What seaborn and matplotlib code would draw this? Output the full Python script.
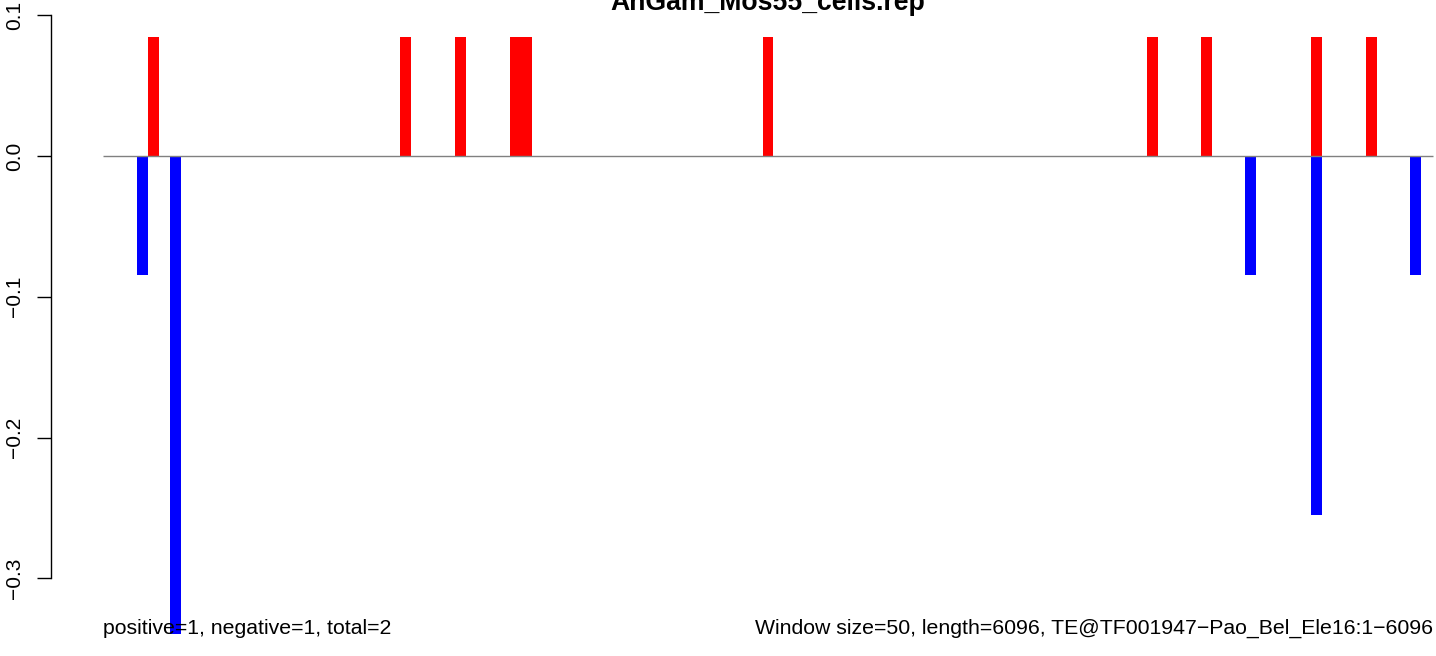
import matplotlib
matplotlib.use("Agg")
import matplotlib.pyplot as plt
import seaborn as sns
import pandas as pd

# ---- data ----
title = "AnGam_Mos55_cells.rep"
pos_windows = [5, 28, 33, 38, 39, 61, 96, 101, 111, 116]
pos_values = [0.0847, 0.0847, 0.0847, 0.0847, 0.0847, 0.0847, 0.0847, 0.0847, 0.0847, 0.0847]
neg_windows = [4, 7, 105, 111, 120]
neg_values = [-0.0847, -0.3397, -0.0847, -0.2548, -0.0847]
ytick_values = [0.1, 0.0, -0.1, -0.2, -0.3]
ytick_labels = ["0.1", "0.0", "\u22120.1", "\u22120.2", "\u22120.3"]
left_note = "positive=1, negative=1, total=2"
right_note = "Window size=50, length=6096, TE@TF001947\u2212Pao_Bel_Ele16:1\u22126096"

sns.set_style("white")
plt.rcParams["font.family"] = ["Liberation Sans", "DejaVu Sans"]
plt.rcParams["text.color"] = "black"
plt.rcParams["ytick.color"] = "black"

df = pd.DataFrame({
    "window": pos_windows + neg_windows,
    "value": pos_values + neg_values,
    "sign": ["pos"] * len(pos_windows) + ["neg"] * len(neg_windows),
})

W, H = 1436, 656
fig = plt.figure(figsize=(W / 100, H / 100), dpi=100)
ax = fig.add_axes([50.5 / W, 0.0, 1 - 50.5 / W, 1.0])
ax.set_facecolor("none")

sns.barplot(data=df, x="window", y="value", hue="sign",
            palette={"pos": "#FF0000", "neg": "#0000FF"},
            native_scale=True, dodge=False, width=1.0, linewidth=0,
            errorbar=None, legend=False, saturation=1, ax=ax)

ax.hlines(0, 0.4, 121.6, color="#808080", lw=1.0, zorder=5)

ax.set_xlim(-4.383, 121.87)
ax.set_ylim(-0.3551, 0.1108)

for s in ["top", "right", "bottom"]:
    ax.spines[s].set_visible(False)
ax.spines["left"].set_bounds(-0.3, 0.1)
ax.spines["left"].set_linewidth(1.0)
ax.spines["left"].set_color("black")
ax.xaxis.set_visible(False)
ax.set_yticks(ytick_values)
ax.set_yticklabels(ytick_labels, rotation=90, va="center", fontsize=15, color="black")
ax.tick_params(axis="y", length=10, width=1.0, pad=9, left=True, colors="black")
ax.set_xlabel("")
ax.set_ylabel("")
ax.grid(False)

fig.text(768 / W, 1 - 10 / H, title, ha="center", va="baseline",
         fontsize=19.2, fontweight="bold", color="black")
fig.text(103 / W, 1 - 634 / H, left_note, ha="left", va="baseline",
         fontsize=15.3, color="black")
fig.text(1433 / W, 1 - 634 / H, right_note, ha="right", va="baseline",
         fontsize=15.3, color="black")

fig.savefig("out.png", dpi=100)
